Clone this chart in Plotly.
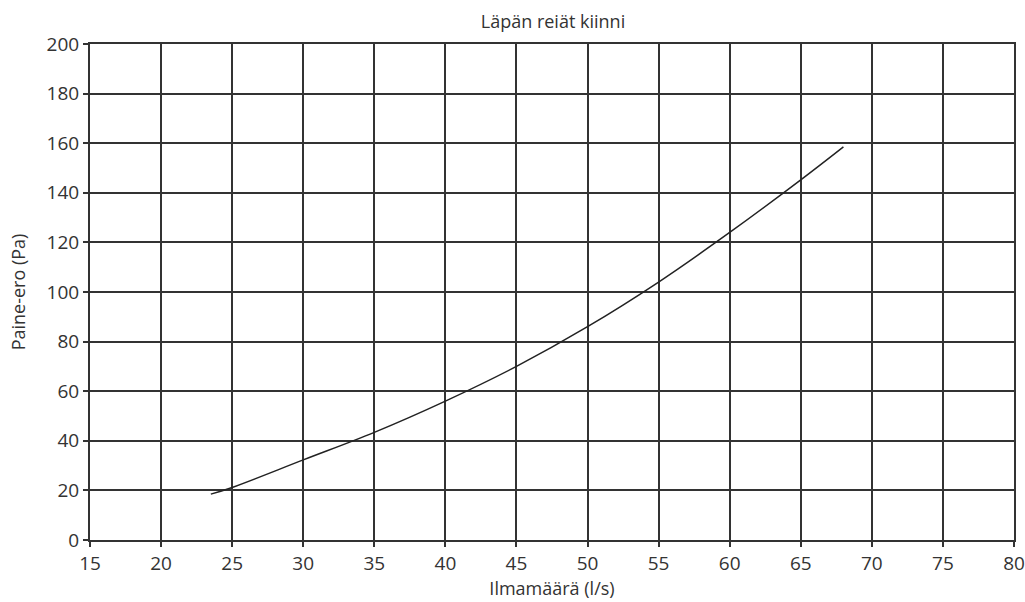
import plotly.graph_objects as go

flow = [23.5, 25, 30, 35, 40, 45, 50, 55, 60, 65, 68]
pressure = [18.5, 21.2, 32.3, 43.4, 56, 70, 86, 104, 124, 145.2, 158.5]
x_ticks = [15, 20, 25, 30, 35, 40, 45, 50, 55, 60, 65, 70, 75, 80]
y_ticks = [0, 20, 40, 60, 80, 100, 120, 140, 160, 180, 200]

fig = go.Figure()
fig.add_trace(go.Scatter(x=flow, y=pressure, mode="lines",
                         line=dict(color="#222222", width=1.5, shape="spline"),
                         showlegend=False, hoverinfo="skip"))

font = "Open Sans, Noto Sans, sans-serif"
fig.update_layout(
    width=1025, height=602,
    margin=dict(l=90, r=11, t=44, b=62, autoexpand=False),
    paper_bgcolor="white", plot_bgcolor="white",
    font=dict(family=font, color="#333333"),
    title=dict(text="Läpän reiät kiinni", x=0.5395, xanchor="center", y=0.9635, yanchor="middle",
               font=dict(size=18, family=font, color="#333333")),
)
fig.update_xaxes(range=[15, 80], tickvals=x_ticks, showgrid=True, gridcolor="#333333", gridwidth=1.5,
                 showline=True, linecolor="#333333", linewidth=2, mirror=True,
                 ticks="outside", ticklen=5, tickcolor="#333333", tickwidth=1.5,
                 tickfont=dict(size=19, family=font, color="#333333"), automargin=False,
                 title=dict(text="Ilmamäärä (l/s)", font=dict(size=18, family=font, color="#333333"), standoff=0),
                 zeroline=False)
fig.update_yaxes(range=[0, 200], tickvals=y_ticks, showgrid=True, gridcolor="#333333", gridwidth=1.5,
                 showline=True, linecolor="#333333", linewidth=2, mirror=True,
                 ticks="outside", ticklen=5, tickcolor="#333333", tickwidth=1.5,
                 tickfont=dict(size=19, family=font, color="#333333"), automargin=False,
                 title=dict(text="Paine-ero (Pa)", font=dict(size=18, family=font, color="#333333"), standoff=16),
                 zeroline=False)

fig.write_html("out.html", config={"displayModeBar": False},
               post_script="document.body.style.margin='0';document.body.style.overflow='hidden';")
